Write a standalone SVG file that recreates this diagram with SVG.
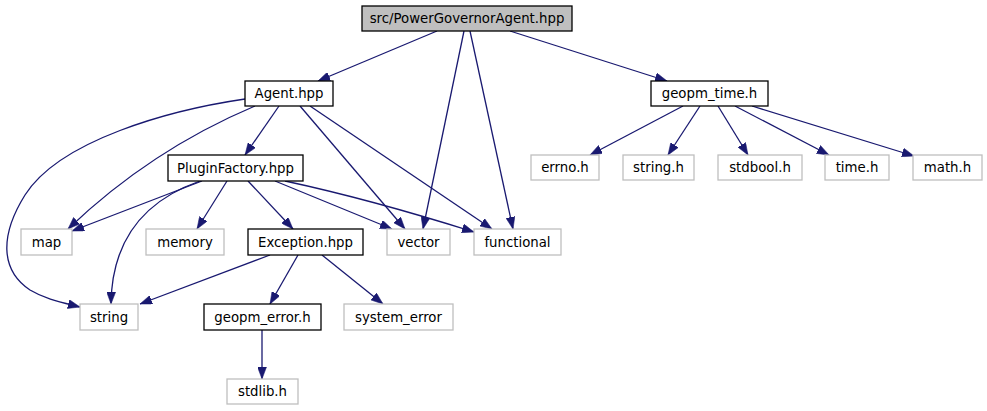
<svg xmlns="http://www.w3.org/2000/svg" width="987" height="411" viewBox="0 0 987 411">
<style>
.bg{fill:#ffffff}
.n rect{fill:#ffffff;stroke:#000000;stroke-width:1.3}
.n.ext rect{stroke:#bfbfbf}
.n.root rect{fill:#bfbfbf}
.n text{font-family:"DejaVu Sans",sans-serif;font-size:13.3px;fill:#000000;text-anchor:middle}
.e path{fill:none;stroke:#191970;stroke-width:1.3;marker-end:url(#ah)}
</style>
<defs>
<marker id="ah" viewBox="0 0 12 9" refX="12" refY="4.5" markerWidth="12" markerHeight="9" orient="auto" markerUnits="userSpaceOnUse">
<path d="M0,0 L12,4.5 L0,9 z" fill="#191970" stroke="#191970" stroke-width="0.5"/>
</marker>
</defs>
<rect class="bg" x="0" y="0" width="987" height="411"/>
<g id="connectors" class="e">
<path d="M437,31 L318,81"/>
<path d="M464,31 L423,229"/>
<path d="M470,31 L513,229"/>
<path d="M510,31 L667,81"/>
<path d="M245,99 C170,110 60,140 25,195 C0,235 0,270 30,290 C45,299 60,302 80,307"/>
<path d="M255,106 C210,125 140,160 68,229"/>
<path d="M279,106 L245,155"/>
<path d="M300,106 L405,229"/>
<path d="M310,106 L492,229"/>
<path d="M202,181 L72,231"/>
<path d="M200,181 C160,195 112,225 111,304"/>
<path d="M227,181 L197,229"/>
<path d="M248,181 L293,229"/>
<path d="M275,181 L392,229"/>
<path d="M285,181 C350,195 420,215 474,232"/>
<path d="M270,255 L140,304"/>
<path d="M298,255 L270,304"/>
<path d="M322,255 L383,304"/>
<path d="M262,330 L262,379"/>
<path d="M683,106 L590,155"/>
<path d="M700,106 L668,155"/>
<path d="M718,106 L748,155"/>
<path d="M735,106 L829,155"/>
<path d="M752,106 L914,156"/>
</g>
<g id="root" class="n root"><rect x="362" y="6" width="210" height="25"/><text x="467" y="23">src/PowerGovernorAgent.hpp</text></g>
<g id="agent" class="n"><rect x="245" y="81" width="88" height="25"/><text x="289" y="98">Agent.hpp</text></g>
<g id="geopm_time" class="n"><rect x="651" y="81" width="117" height="25"/><text x="709.5" y="98">geopm_time.h</text></g>
<g id="pluginfactory" class="n"><rect x="168" y="155" width="135" height="26"/><text x="235.5" y="172.5">PluginFactory.hpp</text></g>
<g id="errno" class="n ext"><rect x="531" y="155" width="68" height="25"/><text x="565" y="172">errno.h</text></g>
<g id="string_h" class="n ext"><rect x="623" y="155" width="71" height="25"/><text x="658.5" y="172">string.h</text></g>
<g id="stdbool" class="n ext"><rect x="718" y="155" width="84" height="25"/><text x="760" y="172">stdbool.h</text></g>
<g id="time_h" class="n ext"><rect x="825" y="155" width="64" height="25"/><text x="857" y="172">time.h</text></g>
<g id="math_h" class="n ext"><rect x="913" y="155" width="69" height="25"/><text x="947.5" y="172">math.h</text></g>
<g id="map" class="n ext"><rect x="21" y="229" width="51" height="26"/><text x="46.5" y="246.5">map</text></g>
<g id="memory" class="n ext"><rect x="146" y="229" width="78" height="26"/><text x="185" y="246.5">memory</text></g>
<g id="exception" class="n"><rect x="248" y="229" width="115" height="26"/><text x="305.5" y="246.5">Exception.hpp</text></g>
<g id="vector" class="n ext"><rect x="387" y="229" width="63" height="26"/><text x="418.5" y="246.5">vector</text></g>
<g id="functional" class="n ext"><rect x="474" y="229" width="87" height="26"/><text x="517.5" y="246.5">functional</text></g>
<g id="string" class="n ext"><rect x="80" y="304" width="58" height="26"/><text x="109" y="321.5">string</text></g>
<g id="geopm_error" class="n"><rect x="204" y="304" width="117" height="26"/><text x="262.5" y="321.5">geopm_error.h</text></g>
<g id="system_error" class="n ext"><rect x="344" y="304" width="109" height="26"/><text x="398.5" y="321.5">system_error</text></g>
<g id="stdlib" class="n ext"><rect x="227" y="379" width="71" height="25"/><text x="262.5" y="396">stdlib.h</text></g>
</svg>
